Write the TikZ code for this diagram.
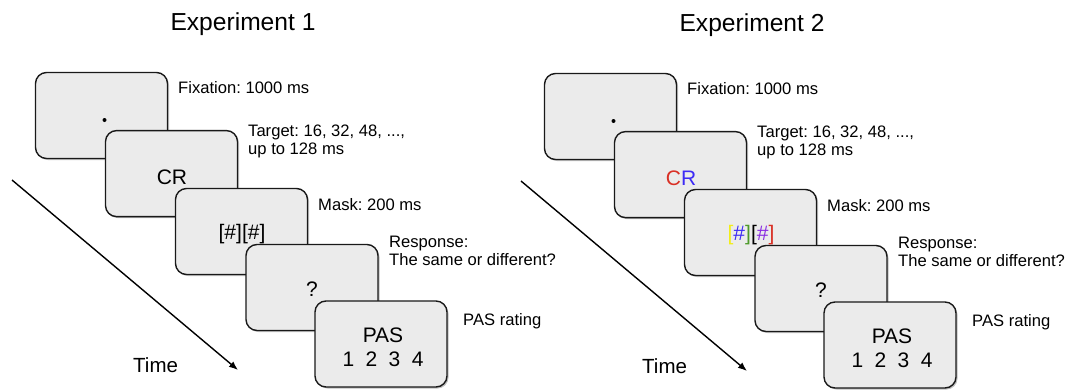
\documentclass[tikz,border=0pt]{standalone}
\usepackage{fontspec}
\setmainfont{Liberation Sans}
\frenchspacing
\usetikzlibrary{shadows,arrows.meta}
\definecolor{boxfill}{HTML}{EBEBEB}
\definecolor{cred}{HTML}{D93025}
\definecolor{cblue}{HTML}{3D2BF5}
\definecolor{cyel}{HTML}{F2EE1A}
\definecolor{cgreen}{HTML}{4E9A2A}
\definecolor{cpurp}{HTML}{8A2BE2}
\tikzset{
  screen/.style={draw=black!90, line width=1.4pt, fill=boxfill, rounded corners=11pt,
    minimum width=132pt, minimum height=86pt, inner sep=0pt,
    drop shadow={shadow xshift=1.5pt, shadow yshift=-1.5pt, fill=black, opacity=0.25}},
  lbl/.style={anchor=base west, inner sep=0pt, align=left, font=\fontsize{16.6}{18}\selectfont},
  ttl/.style={anchor=base, inner sep=0pt, font=\fontsize{24.6}{28}\selectfont},
  boxtxt/.style={inner sep=0pt, align=center, font=\fontsize{21}{24}\selectfont},
  timelbl/.style={anchor=base west, inner sep=0pt, font=\fontsize{20.5}{24}\selectfont},
  timearrow/.style={line width=1.4pt, -{Latex[length=9pt,width=7pt]}}
}
\newcommand\exppanel[5]{%
  \begin{scope}[shift={#2}]
  \node[ttl] (#1title) at (243,30) {#3};
  \coordinate (#1ts) at (12,180);
  \coordinate (#1te) at (238,370);
  \draw[timearrow] (#1ts) -- (#1te);
  \node[timelbl] (#1time) at (133,372) {Time};
  \node[screen] (#1b1) at (101.5,115.5) {};
  \fill (104.5,120) circle (2pt);
  \node[lbl] (#1l1) at (178,93) {Fixation: 1000 ms};
  \node[screen] (#1b2) at (171.5,173.6) {};
  \node[boxtxt] (#1t2) at (172,177.5) {#4};
  \node[lbl] (#1l2) at (248,154) {Target: 16, 32, 48, ...,\\up to 128 ms};
  \node[screen] (#1b3) at (241.5,231.5) {};
  \node[boxtxt] (#1t3) at (242,234) {#5};
  \node[lbl] (#1l3) at (318,210) {Mask: 200 ms};
  \node[screen] (#1b4) at (312,287.5) {};
  \node[boxtxt] (#1t4) at (312,289) {?};
  \node[lbl] (#1l4) at (389,265) {Response:\\The same or different?};
  \node[screen] (#1b5) at (381,344) {};
  \node[boxtxt] (#1t5) at (383,347.5) {PAS\\1\hspace{11.4pt}2\hspace{11.4pt}3\hspace{11.4pt}4};
  \node[lbl] (#1l5) at (463,325) {PAS rating};
  \end{scope}}
\begin{document}
\begin{tikzpicture}[x=1pt,y=-1pt]
\useasboundingbox (0,0) rectangle (1073,391);
\exppanel{a}{(0,0)}{Experiment 1}{CR}{[\#][\#]}
\exppanel{b}{(509,1)}{Experiment 2}{\textcolor{cred}{C}\textcolor{cblue}{R}}{\textcolor{cyel}{[}\textcolor{cblue}{\#}\textcolor{cgreen}{]}[\textcolor{cpurp}{\#}\textcolor{cred}{]}}
\end{tikzpicture}
\end{document}
